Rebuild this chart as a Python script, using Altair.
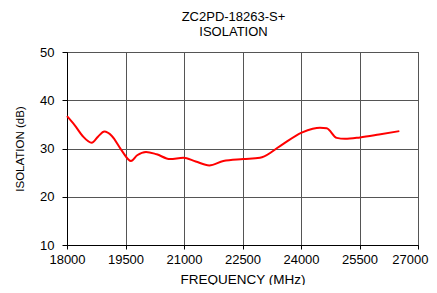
import altair as alt
import pandas as pd

freq = [18000, 18200, 18400, 18633, 18800, 18956, 19150, 19400, 19641, 19800, 20026,
        20300, 20641, 20982, 21300, 21649, 22008, 22521, 22949, 23000, 23462, 24017,
        24300, 24487, 24658, 24915, 25128, 25513, 26000, 26521]
iso = [36.7, 34.8, 32.6, 31.2, 32.5, 33.5, 32.6, 29.6, 27.4, 28.6, 29.3,
       28.8, 27.8, 28.1, 27.3, 26.5, 27.4, 27.8, 28.1, 28.2, 30.5, 33.3,
       34.1, 34.3, 34.2, 32.2, 32.0, 32.3, 32.9, 33.6]

x_ticks = [18000, 19500, 21000, 22500, 24000, 25500, 27000]
y_ticks = [10, 20, 30, 40, 50]

df = pd.DataFrame({"f": freq, "v": iso})

FONT = "Liberation Sans"

chart = alt.Chart(df).mark_line(color="#ff0000", strokeWidth=2, interpolate="monotone").encode(
    x=alt.X("f:Q", scale=alt.Scale(domain=[18000, 27000], nice=False, zero=False),
            axis=alt.Axis(values=x_ticks, title="FREQUENCY (MHz)", format="d",
                          labelFont=FONT, titleFont=FONT, labelFontSize=13, titleFontSize=13.5,
                          titleFontWeight="normal", labelColor="#000", titleColor="#000",
                          gridColor="#555", gridOpacity=1, domainColor="#000", tickColor="#000",
                          tickSize=4, labelPadding=4, titlePadding=6, labelFlush=False,
                          labelAlign=alt.expr("datum.value >= 27000 ? 'right' : 'center'"),
                          labelOffset=alt.expr("datum.value >= 27000 ? 10 : 0"))),
    y=alt.Y("v:Q", scale=alt.Scale(domain=[10, 50], nice=False, zero=False),
            axis=alt.Axis(values=y_ticks, title="ISOLATION (dB)",
                          labelFont=FONT, titleFont=FONT, labelFontSize=13, titleFontSize=11.5,
                          titleFontWeight="normal", labelColor="#000", titleColor="#000",
                          gridColor="#555", gridOpacity=1, domainColor="#000", tickColor="#000",
                          tickSize=5, labelPadding=8, titlePadding=14)),
).properties(
    width=351, height=193,
    title=alt.TitleParams(["ZC2PD-18263-S+", "ISOLATION"], font=FONT, fontSize=13,
                          fontWeight="normal", color="#000", offset=7, dx=-9, lineHeight=15),
    autosize=alt.AutoSizeParams(type="none"),
    padding={"left": 59, "top": 44, "right": 11, "bottom": 40},
).configure_view(stroke="#000", strokeWidth=1)

chart.save("out.html", embed_options={"renderer": "svg", "actions": False})
